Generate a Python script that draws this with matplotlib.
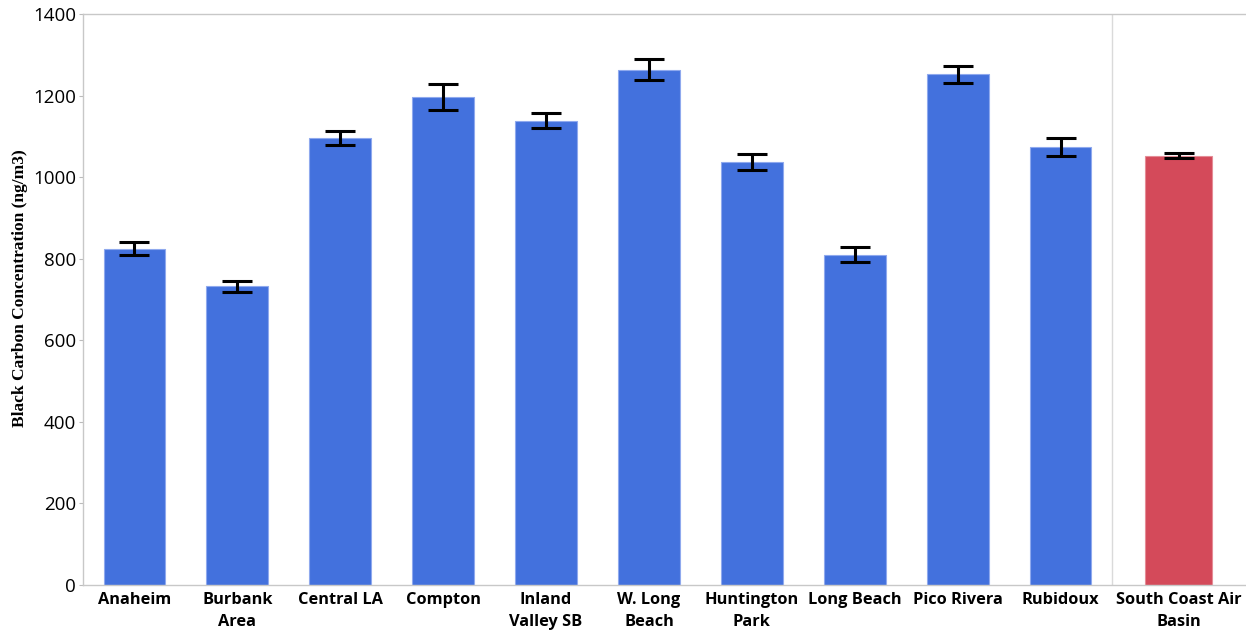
import matplotlib
matplotlib.use("Agg")
import matplotlib.pyplot as plt
import numpy as np

# site values
sites = ["Anaheim", "Burbank\nArea", "Central LA", "Compton", "Inland\nValley SB",
         "W. Long\nBeach", "Huntington\nPark", "Long Beach", "Pico Rivera", "Rubidoux"]
site_values = [824, 732, 1097, 1197, 1138, 1263, 1037, 810, 1252, 1074]
site_errors = [16, 12.5, 17, 32, 18.5, 26, 20, 18, 20, 21]

basin_label = "South Coast Air\nBasin"
basin_value = 1053
basin_error = 7

blue = "#4371DD"
red = "#D44A5A"

fig = plt.figure(figsize=(12.46, 6.31), dpi=100)
ax = fig.add_axes([83 / 1246, 1 - 585 / 631, 1 - 83 / 1246, (585 - 14) / 631])

x_sites = np.arange(len(sites))
divider = len(sites) - 0.5
x_basin = divider + 0.65
x_right = divider + 134 / 102.9

err_kw = dict(ecolor="black", elinewidth=2.2, capsize=11, capthick=2.2)
ax.bar(x_sites, site_values, width=0.6, color=blue, edgecolor="#8FA9EE",
       linewidth=0.8, yerr=site_errors, error_kw=err_kw, zorder=2)
ax.bar([x_basin], [basin_value], width=0.65, color=red, edgecolor="#E58C96",
       linewidth=0.8, yerr=[basin_error], error_kw=err_kw, zorder=2)

ax.axvline(divider, color="#DADADA", linewidth=1, zorder=1)

ax.set_xlim(-0.5, x_right)
ax.set_ylim(0, 1400)
ax.set_yticks(range(0, 1401, 200))
ax.set_xticks(list(x_sites) + [x_basin])
ax.set_xticklabels(sites + [basin_label], fontfamily="Open Sans",
                   fontweight="bold", fontsize=11.8, linespacing=1.5)
for lbl in ax.get_yticklabels():
    lbl.set_fontfamily("Open Sans")
    lbl.set_fontsize(13.5)

ax.tick_params(axis="x", length=0, pad=5)
ax.tick_params(axis="y", length=3, color="#BBBBBB", pad=2)

for side in ["left", "top", "bottom"]:
    ax.spines[side].set_color("#C8C8C8")
    ax.spines[side].set_linewidth(1)
ax.spines["right"].set_visible(False)

ax.set_ylabel("Black Carbon Concentration (ng/m3)", fontfamily="Liberation Serif",
              fontweight="bold", fontsize=12.5)
ax.yaxis.set_label_coords(-0.047, 0.52)

fig.savefig("out.png", dpi=100)
